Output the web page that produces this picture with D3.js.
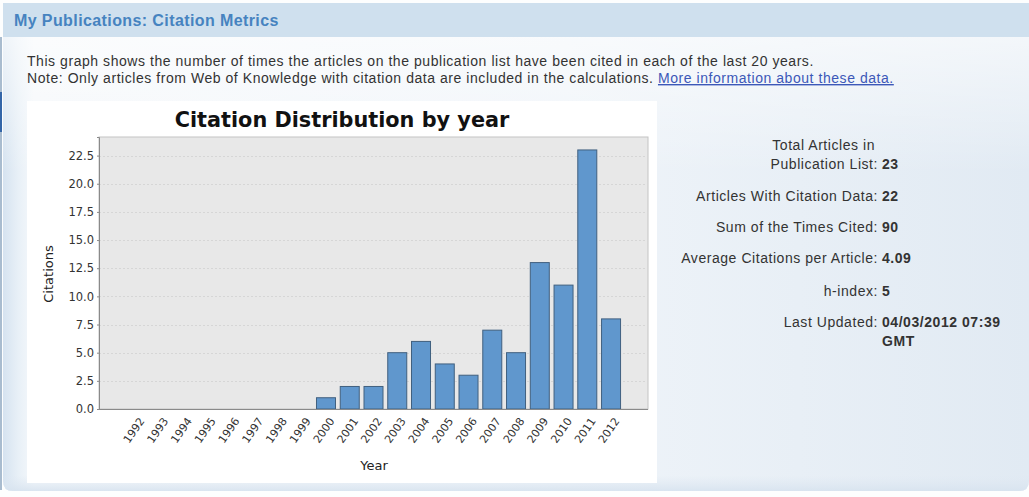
<!DOCTYPE html>
<html><head><meta charset="utf-8">
<script src="https://cdn.jsdelivr.net/npm/d3@7"></script>
<style>html,body{margin:0;padding:0;background:#fff;overflow:hidden}</style>
</head><body><svg id="c" width="1029" height="497"></svg>
<script>
// ---- data ----
const years = ["1992","1993","1994","1995","1996","1997","1998","1999","2000","2001","2002","2003","2004","2005","2006","2007","2008","2009","2010","2011","2012"];
const citations = [0,0,0,0,0,0,0,0,1,2,2,5,6,4,3,7,5,13,11,23,8];
const yTicks = [0,2.5,5,7.5,10,12.5,15,17.5,20,22.5];
const statLabels = [["Total Articles in","Publication List:"],["Articles With Citation Data:"],["Sum of the Times Cited:"],["Average Citations per Article:"],["h-index:"],["Last Updated:"]];
const statValues = [["23"],["22"],["90"],["4.09"],["5"],["04/03/2012 07:39","GMT"]];
const headerTitle = "My Publications: Citation Metrics";
const introLines = ["This graph shows the number of times the articles on the publication list have been cited in each of the last 20 years.",
                    "Note: Only articles from Web of Knowledge with citation data are included in the calculations. "];
const linkText = "More information about these data.";
const chartTitle = "Citation Distribution by year";
const yLabel = "Citations", xLabel = "Year";

// ---- page ----
const svg = d3.select("#c");
const defs = svg.append("defs");
const g1 = defs.append("linearGradient").attr("id","pg").attr("x1",0).attr("x2",1).attr("y1",0).attr("y2",0);
[[0,"#d6e3f0"],[0.015,"#e8f0f7"],[0.03,"#f5f8fb"],[0.55,"#eff4f9"],[1,"#e1eaf3"]].forEach(s=>g1.append("stop").attr("offset",s[0]).attr("stop-color",s[1]));
const g2 = defs.append("linearGradient").attr("id","pv").attr("x1",0).attr("x2",0).attr("y1",0).attr("y2",1);
[[0,"#ffffff",0.6],[0.3,"#ffffff",0],[0.965,"#dfe8f2",0],[1,"#d7e3ef",0.9]].forEach(s=>g2.append("stop").attr("offset",s[0]).attr("stop-color",s[1]).attr("stop-opacity",s[2]));

svg.append("rect").attr("width",1029).attr("height",497).attr("fill","#fdfefe");
svg.append("path").attr("d","M3,37 L3,481 Q3,491 13,491 L1019,491 Q1029,491 1029,481 L1029,37 Z").attr("fill","url(#pg)");
svg.append("path").attr("d","M3,37 L3,481 Q3,491 13,491 L1019,491 Q1029,491 1029,481 L1029,37 Z").attr("fill","url(#pv)");
svg.append("rect").attr("x",3).attr("y",3).attr("width",1026).attr("height",34).attr("fill","#cfe0ee");
svg.append("line").attr("x1",1).attr("x2",1).attr("y1",37).attr("y2",490).attr("stroke","#a9bccf").attr("stroke-width",2);
svg.append("line").attr("x1",1).attr("x2",1).attr("y1",92).attr("y2",132).attr("stroke","#3466a8").attr("stroke-width",2);

svg.append("text").attr("x",14).attr("y",26).text(headerTitle)
  .attr("font-family","Liberation Sans, Arial").attr("font-size",16).attr("font-weight","bold")
  .attr("letter-spacing",0.4).attr("fill","#4683c0");
introLines.forEach((t,i)=>{
  const tx = svg.append("text").attr("x",27).attr("y",66+i*17)
    .attr("font-family","Liberation Sans, Arial").attr("font-size",14).attr("letter-spacing",0.55).attr("fill","#333");
  tx.append("tspan").text(t);
  if(i===1) tx.append("tspan").text(linkText).attr("fill","#3c58b8").attr("text-decoration","underline");
});

// ---- chart box ----
svg.append("rect").attr("x",27).attr("y",101).attr("width",630).attr("height",382).attr("fill","#ffffff");

const px0=99, px1=648, py0=137, py1=409;
const W = px1-px0;
const x = d3.scaleBand().domain(years).range([px0+0.05*W, px1-0.05*W]).paddingInner(0.2).paddingOuter(0);
const y = d3.scaleLinear().domain([0, d3.max(citations)*1.05]).range([py1, py0]);

svg.append("text").attr("x",342).attr("y",127).attr("text-anchor","middle")
  .attr("font-family","DejaVu Sans").attr("font-weight","bold").attr("font-size",20.8).attr("fill","#111").text(chartTitle);

svg.append("rect").attr("x",px0).attr("y",py0).attr("width",W).attr("height",py1-py0).attr("fill","#e8e8e8").attr("stroke","#c4c4c4").attr("stroke-width",1);

svg.append("g").selectAll("line").data(yTicks.filter(d=>d>0)).join("line")
  .attr("x1",px0).attr("x2",px1).attr("y1",d=>Math.round(y(d))+0.5).attr("y2",d=>Math.round(y(d))+0.5)
  .attr("stroke","#d6d6d6").attr("stroke-width",1).attr("stroke-dasharray","2,2");

svg.append("g").selectAll("rect").data(citations.map((v,i)=>({k:years[i],v}))).join("rect")
  .attr("x",d=>x(d.k)).attr("width",x.bandwidth())
  .attr("y",d=>y(d.v)).attr("height",d=>y(0)-y(d.v))
  .attr("fill","#6097cd").attr("stroke","#41607f").attr("stroke-width",1)
  .attr("display",d=>d.v>0?null:"none");

// axes
const yAxis = svg.append("g").attr("transform",`translate(${px0},0)`)
  .call(d3.axisLeft(y).tickValues(yTicks).tickFormat(d3.format(".1f")).tickSize(2).tickPadding(3));
yAxis.select(".domain").attr("stroke","#8a8a8a");
yAxis.selectAll(".tick line").attr("stroke","#8a8a8a");
yAxis.selectAll("text").attr("font-family","DejaVu Sans").attr("font-size",11.5).attr("fill","#333");

const xAxis = svg.append("g").attr("transform",`translate(0,${py1})`)
  .call(d3.axisBottom(x).tickSize(0).tickPadding(0));
xAxis.select(".domain").attr("stroke","#8a8a8a").attr("d",`M${px0},0.5H${px1}`);
xAxis.selectAll(".tick text")
  .attr("font-family","DejaVu Sans").attr("font-size",11).attr("fill","#333")
  .attr("text-anchor","end").attr("dy",0).attr("y",0)
  .attr("transform","translate(9,12) rotate(-55)");

svg.append("text").attr("transform","translate(53,274) rotate(-90)").attr("text-anchor","middle")
  .attr("font-family","DejaVu Sans").attr("font-size",13).attr("fill","#222").text(yLabel);
svg.append("text").attr("x",374).attr("y",470).attr("text-anchor","middle")
  .attr("font-family","DejaVu Sans").attr("font-size",13).attr("fill","#222").text(xLabel);

// ---- stats ----
const rowY = [150, 201, 232, 263, 296, 327];
const lh = 19;
const st = svg.append("g").attr("font-family","Liberation Sans, Arial").attr("font-size",14).attr("letter-spacing",0.55).attr("fill","#333");
statLabels.forEach((lines,i)=>{
  lines.forEach((t,j)=>{
    st.append("text").attr("x", (lines.length>1 && j<lines.length-1)?875:878).attr("y",rowY[i]+j*lh).attr("text-anchor","end").text(t);
  });
  const vBase = rowY[i] + (lines.length-1)*lh;
  statValues[i].forEach((t,j)=>{
    st.append("text").attr("x",882).attr("y",vBase+j*lh).attr("font-weight","bold").text(t);
  });
});
</script></body></html>
